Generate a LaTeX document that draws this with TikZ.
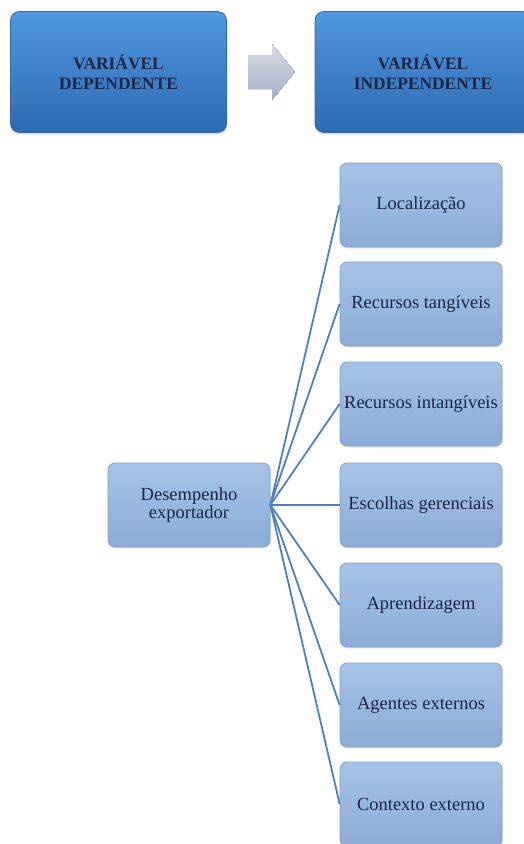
\documentclass[tikz,border=0pt]{standalone}
\usepackage{fontspec}
\setmainfont{Liberation Serif}
\usetikzlibrary{shadows}
\definecolor{txtnavy}{HTML}{1C2548}
\definecolor{topA}{HTML}{5097DE}
\definecolor{topB}{HTML}{2D6BB2}
\definecolor{topE}{HTML}{3468A6}
\definecolor{lowA}{HTML}{A6C2E6}
\definecolor{lowB}{HTML}{8CACD6}
\definecolor{lowE}{HTML}{819FCA}
\definecolor{linec}{HTML}{4E80BA}
\definecolor{arrA}{HTML}{D6DBE5}
\definecolor{arrB}{HTML}{A5B0C6}
\tikzset{
  headbox/.style={draw=topE, line width=0.8pt, rounded corners=9pt, top color=topA, bottom color=topB,
    minimum width=216pt, minimum height=121pt, align=center, text=txtnavy,
    font=\fontsize{17.4}{20}\selectfont\bfseries,
    drop shadow={shadow xshift=1pt, shadow yshift=-2pt, opacity=0.25}},
  itembox/.style={draw=lowE, line width=0.7pt, rounded corners=7pt, top color=lowA, bottom color=lowB,
    minimum width=162pt, minimum height=84pt, align=center, text=txtnavy, inner sep=0pt,
    font=\fontsize{18.5}{18}\selectfont,
    drop shadow={shadow xshift=1pt, shadow yshift=-1.5pt, opacity=0.2}},
  link/.style={draw=linec, line width=1.8pt},
  arrowfill/.style={top color=arrA, bottom color=arrB}
}
\begin{document}
\begin{tikzpicture}[x=1pt,y=-1pt]
\useasboundingbox (0,0) rectangle (524,844);
\node[headbox] (dep) at (118.5,72) {VARIÁVEL\\DEPENDENTE};
\node[headbox] (ind) at (423,72) {VARIÁVEL\\INDEPENDENTE};
\fill[arrowfill] (248,55) -- (272,55) -- (272,44) -- (295,72) -- (272,100) -- (272,89) -- (248,89) -- cycle;
\node[itembox] (des) at (189,505) {Desempenho\\exportador};
\node[itembox] (loc) at (421,205) {Localização};
\node[itembox] (rt) at (421,304) {Recursos tangíveis};
\node[itembox] (ri) at (421,404) {Recursos intangíveis};
\node[itembox] (eg) at (421,505) {Escolhas gerenciais};
\node[itembox] (apr) at (421,605) {Aprendizagem};
\node[itembox] (age) at (421,705) {Agentes externos};
\node[itembox] (ctx) at (421,804) {Contexto externo};
\foreach \t in {loc,rt,ri,eg,apr,age,ctx}{
  \draw[link] (des.east) -- (\t.west);
}
\end{tikzpicture}
\end{document}
